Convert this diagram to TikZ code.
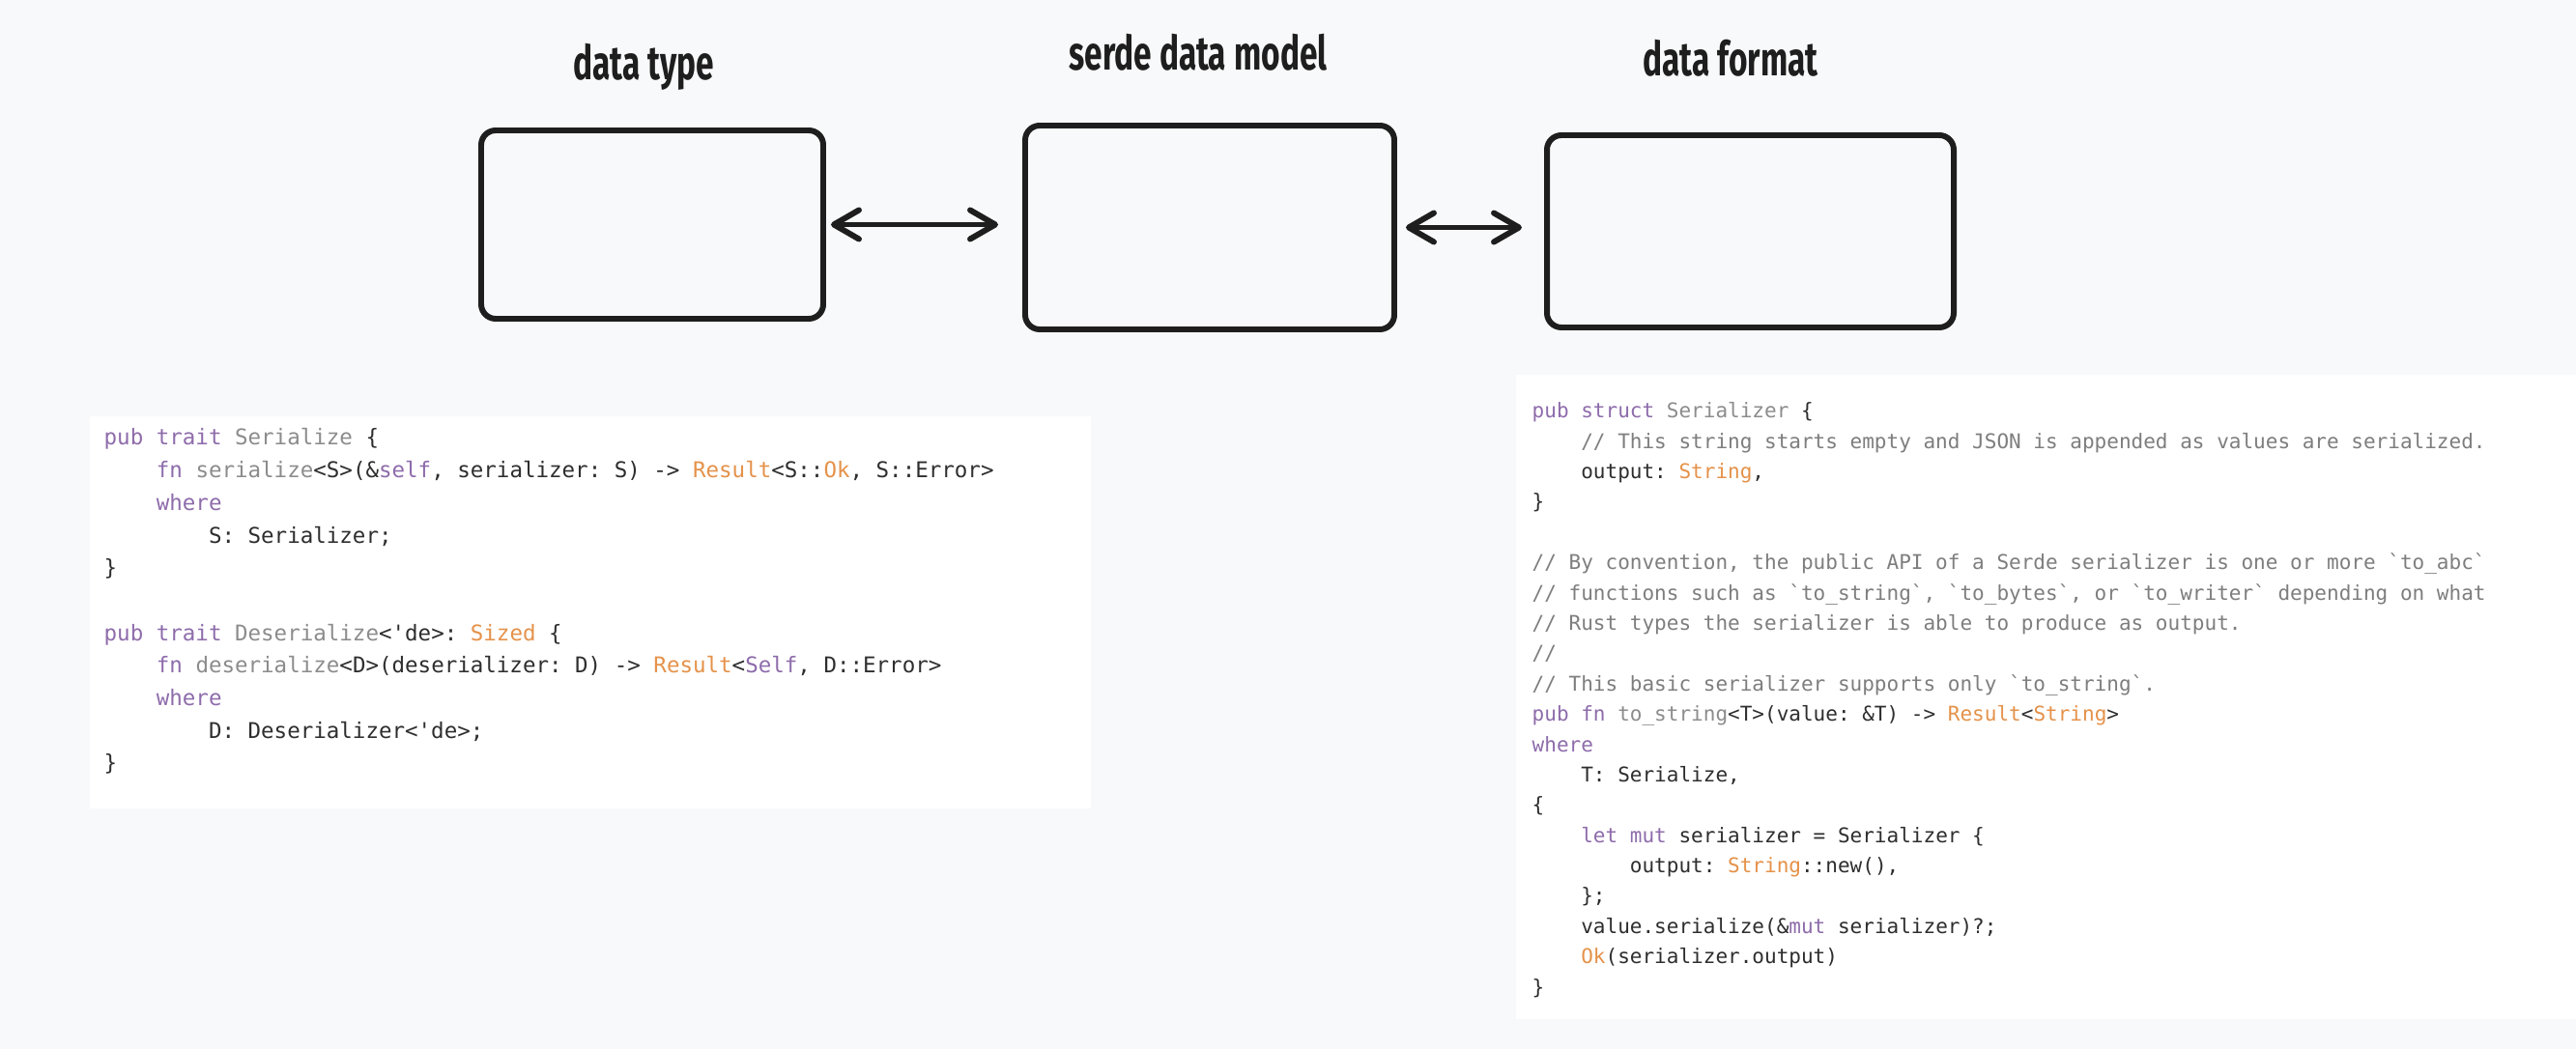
\documentclass[tikz,border=0pt]{standalone}
\usepackage{fontspec}
\setmonofont{DejaVu Sans Mono}
\newfontfamily\handfont[FakeStretch=0.68]{Fira Sans}
\usetikzlibrary{arrows.meta}
\usetikzlibrary{positioning}
\usepackage{xcolor}

\definecolor{bgcol}{HTML}{F8F9FA}
\definecolor{ink}{HTML}{1E1E1E}
\definecolor{codetext}{HTML}{2E2E2E}
\definecolor{kwcol}{HTML}{8E6CAB}
\definecolor{tycol}{HTML}{8C8C8C}
\definecolor{stdcol}{HTML}{E5924A}
\definecolor{cmcol}{HTML}{7E7E7E}

\newcommand{\kw}[1]{\textcolor{kwcol}{#1}}
\newcommand{\ty}[1]{\textcolor{tycol}{#1}}
\newcommand{\std}[1]{\textcolor{stdcol}{#1}}
\newcommand{\cm}[1]{\textcolor{cmcol}{#1}}
\newcommand{\ind}{\phantom{0000}}

\tikzset{
  title/.style={font=\handfont\bfseries\fontsize{14}{16}\selectfont, text=ink, anchor=base},
  layer/.style={draw=ink, line width=1.7pt, rounded corners=0.15cm},
  link/.style={draw=ink, line width=1.7pt, line cap=round,
    {Straight Barb[length=0.26cm,width=0.30cm,line cap=round,line join=round]}-{Straight Barb[length=0.26cm,width=0.30cm,line cap=round,line join=round]}},
  panel/.style={fill=white, draw=none, anchor=north west, inner sep=0pt},
  code/.style={anchor=north west, inner sep=0pt, align=left, text=codetext}
}

\begin{document}
\begin{tikzpicture}[y=-1cm]

% background and picture size
\fill[bgcol] (0,0) rectangle (26.66,10.86);
\useasboundingbox (0,0) rectangle (26.66,10.86);

% the three layers
\node[layer, minimum width=3.54cm, minimum height=1.95cm] (dtype) at (6.75,2.325) {};
\node[layer, minimum width=3.82cm, minimum height=2.11cm] (model) at (12.52,2.355) {};
\node[layer, minimum width=4.21cm, minimum height=1.99cm] (format) at (18.115,2.395) {};

\node[title] (dtypetitle) at (6.66,0.83) {data type};
\node[title] (modeltitle) at (12.40,0.73) {serde data model};
\node[title] (formattitle) at (17.91,0.79) {data format};

% arrows between the layers
\draw[link, shorten <=0.05cm, shorten >=0.25cm] (dtype.east) -- (dtype.east -| model.west);
\draw[link, shorten <=0.09cm, shorten >=0.23cm] (model.east) -- (model.east -| format.west);

% code on the data type side
\node[panel, minimum width=10.36cm, minimum height=4.06cm] (traitpanel) at (0.92,4.30) {};
\node[code, font=\ttfamily\fontsize{6.4}{9.59}\selectfont] (traitcode) at (1.07,4.43) {%
\kw{pub} \kw{trait} \ty{Serialize} \{\\
\ind\kw{fn} \ty{serialize}<S>(\&\kw{self}, serializer: S) -> \std{Result}<S::\std{Ok}, S::Error>\\
\ind\kw{where}\\
\ind\ind S: Serializer;\\
\}\\
\mbox{}\\
\kw{pub} \kw{trait} \ty{Deserialize}<'de>: \std{Sized} \{\\
\ind\kw{fn} \ty{deserialize}<D>(deserializer: D) -> \std{Result}<\kw{Self}, D::Error>\\
\ind\kw{where}\\
\ind\ind D: Deserializer<'de>;\\
\}};

% code on the data format side
\node[panel, minimum width=10.98cm, minimum height=6.67cm] (formatpanel) at (15.68,3.87) {};
\node[code, font=\ttfamily\fontsize{5.98}{8.93}\selectfont] (formatcode) at (15.85,4.16) {%
\kw{pub} \kw{struct} \ty{Serializer} \{\\
\ind\cm{// This string starts empty and JSON is appended as values are serialized.}\\
\ind output: \std{String},\\
\}\\
\mbox{}\\
\cm{// By convention, the public API of a Serde serializer is one or more `to\_abc`}\\
\cm{// functions such as `to\_string`, `to\_bytes`, or `to\_writer` depending on what}\\
\cm{// Rust types the serializer is able to produce as output.}\\
\cm{//}\\
\cm{// This basic serializer supports only `to\_string`.}\\
\kw{pub} \kw{fn} \ty{to\_string}<T>(value: \&T) -> \std{Result}<\std{String}>\\
\kw{where}\\
\ind T: Serialize,\\
\{\\
\ind\kw{let} \kw{mut} serializer = Serializer \{\\
\ind\ind output: \std{String}::new(),\\
\ind\};\\
\ind value.serialize(\&\kw{mut} serializer)?;\\
\ind\std{Ok}(serializer.output)\\
\}};

\end{tikzpicture}
\end{document}
